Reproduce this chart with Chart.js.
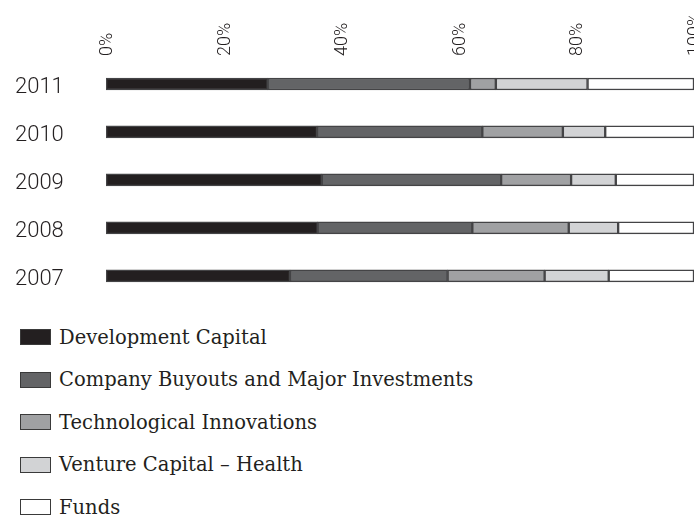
<!DOCTYPE html>
<html>
<head>
<meta charset="utf-8">
<script src="https://cdn.jsdelivr.net/npm/chart.js@4/dist/chart.umd.min.js"></script>
<style>
  html, body { margin: 0; padding: 0; background: #fff; }
  #wrap { position: relative; width: 694px; height: 313px; }
  #legend { margin: 3px 0 0 20px; font-family: 'DejaVu Serif', serif; font-size: 19.5px; color: #231f20; }
  .legend-item { display: flex; align-items: center; height: 42.5px; }
  .legend-box { width: 29px; height: 14px; border: 1.5px solid #3a3a3a; margin-right: 8px; }
</style>
</head>
<body>
<div id="wrap"><canvas id="chart" width="694" height="313"></canvas></div>
<div id="legend"></div>
<script>
// years, top to bottom
const years = ['2011', '2010', '2009', '2008', '2007'];

const seriesNames = [
  'Development Capital',
  'Company Buyouts and Major Investments',
  'Technological Innovations',
  'Venture Capital – Health',
  'Funds'
];

// share of portfolio (%) per year, same order as years
const devCapital   = [27.5, 35.9, 36.7, 36.0, 31.3];
const buyouts      = [34.4, 28.1, 30.5, 26.3, 26.8];
const techInnov    = [ 4.4, 13.7, 11.9, 16.4, 16.5];
const ventureHealth= [15.6,  7.2,  7.6,  8.4, 10.9];
const funds        = [18.1, 15.1, 13.3, 12.9, 14.5];

const tickValues = [0, 20, 40, 60, 80, 100];

const fills = ['#231f20', '#636466', '#a0a1a3', '#d2d3d5', '#ffffff'];
const ink = '#231f20';

const seriesData = [devCapital, buyouts, techInnov, ventureHealth, funds];

const ctx = document.getElementById('chart').getContext('2d');
const chart = new Chart(ctx, {
  type: 'bar',
  data: {
    labels: years,
    datasets: seriesData.map((d, i) => ({
      label: seriesNames[i],
      data: d,
      backgroundColor: fills[i],
      borderColor: '#444446',
      borderWidth: 1.5,
      borderSkipped: false,
      barThickness: 12
    }))
  },
  options: {
    indexAxis: 'y',
    responsive: false,
    animation: false,
    layout: { padding: { left: 15, right: 0, top: 3, bottom: 0 } },
    plugins: { legend: { display: false }, tooltip: { enabled: false } },
    scales: {
      x: {
        position: 'top',
        stacked: true,
        min: 0,
        max: 100,
        afterBuildTicks: s => { s.ticks = tickValues.map(v => ({ value: v })); },
        grid: { display: false, drawTicks: false },
        border: { display: false },
        afterFit: s => { s.height = 57; s.paddingRight = 0; },
        ticks: {
          minRotation: 90,
          maxRotation: 90,
          padding: 4,
          labelOffset: 23,
          color: ink,
          font: { family: 'Roboto', weight: 300, size: 18 },
          callback: v => v + '%'
        }
      },
      y: {
        stacked: true,
        grid: { display: false, drawTicks: false },
        border: { display: false },
        afterFit: s => { s.width = 91; },
        ticks: {
          crossAlign: 'far',
          padding: 0,
          labelOffset: 4,
          color: ink,
          font: { family: 'Roboto', weight: 300, size: 22 }
        }
      }
    }
  }
});

// HTML legend
document.getElementById('legend').innerHTML = chart.data.datasets.map(ds =>
  `<div class="legend-item">
    <div class="legend-box" style="background:${ds.backgroundColor}"></div>
    ${ds.label}
  </div>`
).join('');
</script>
</body>
</html>
